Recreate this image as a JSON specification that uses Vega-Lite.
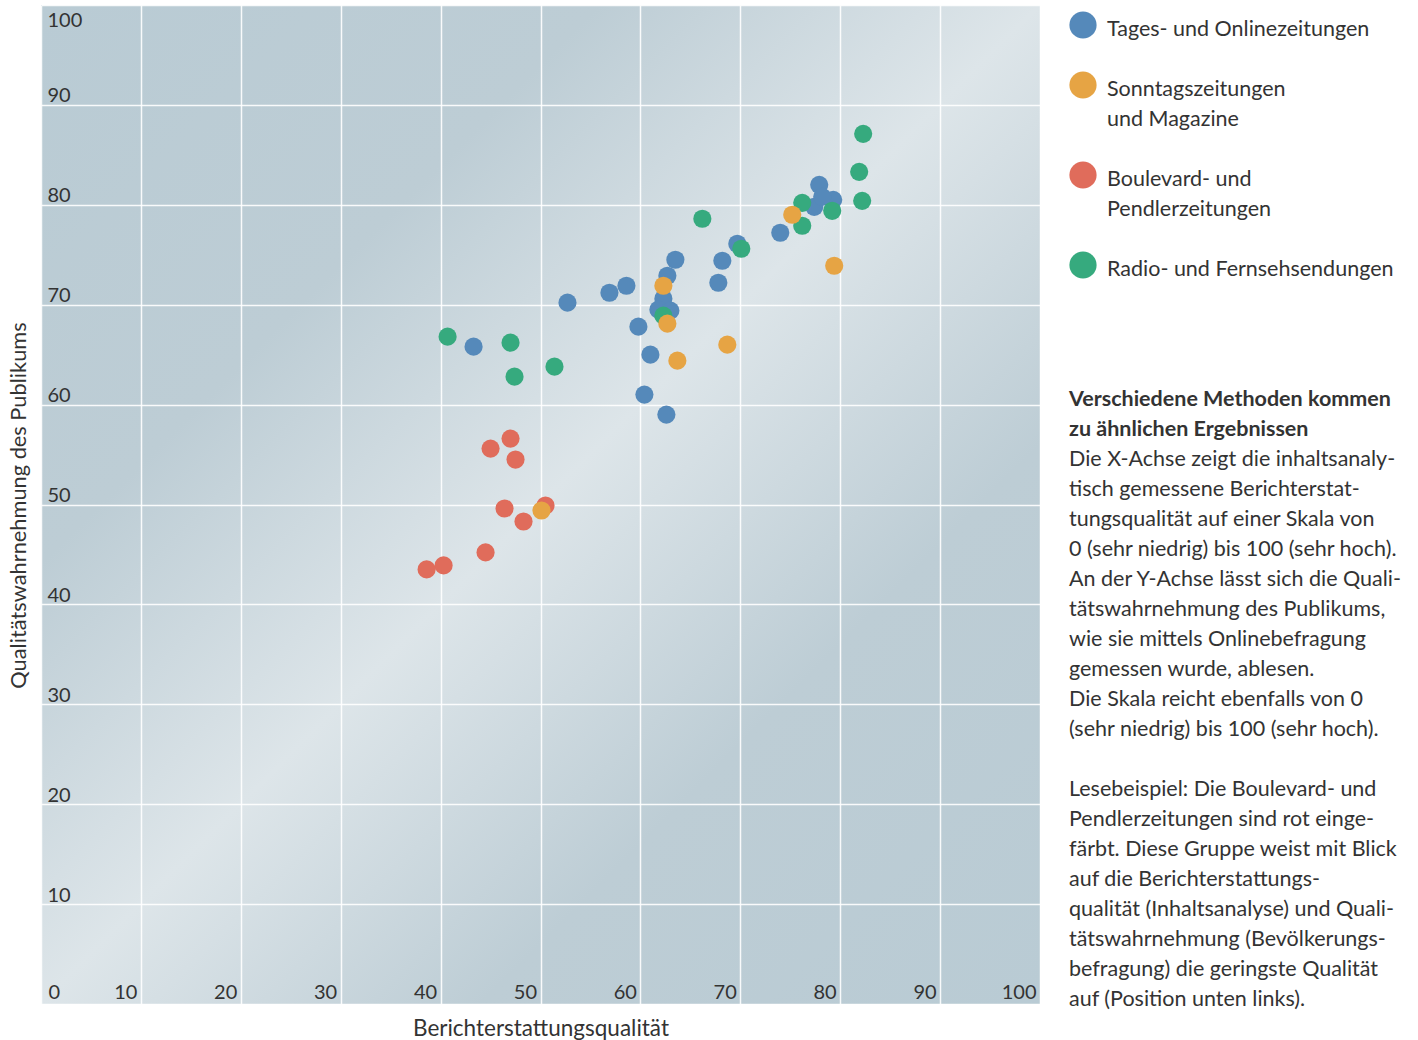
{
  "$schema": "https://vega.github.io/schema/vega-lite/v6.json",
  "autosize": "none",
  "width": 999,
  "height": 999,
  "padding": {"left": 41, "top": 5, "right": 378, "bottom": 36},
  "background": "#ffffff",
  "title": {
    "text": ["Verschiedene Methoden kommen", "zu ähnlichen Ergebnissen"],
    "subtitle": ["Die X-Achse zeigt die inhaltsanaly-", "tisch gemessene Berichterstat-", "tungsqualität auf einer Skala von", "0 (sehr niedrig) bis 100 (sehr hoch).", "An der Y-Achse lässt sich die Quali-", "tätswahrnehmung des Publikums,", "wie sie mittels Onlinebefragung", "gemessen wurde, ablesen.", "Die Skala reicht ebenfalls von 0", "(sehr niedrig) bis 100 (sehr hoch).", "\u2800", "Lesebeispiel: Die Boulevard- und", "Pendlerzeitungen sind rot einge-", "färbt. Diese Gruppe weist mit Blick", "auf die Berichterstattungs-", "qualität (Inhaltsanalyse) und Quali-", "tätswahrnehmung (Bevölkerungs-", "befragung) die geringste Qualität", "auf (Position unten links)."],
    "anchor": "start",
    "frame": "group",
    "orient": "top",
    "dx": 1028,
    "dy": 1009,
    "font": "Lato",
    "fontSize": 21.5,
    "fontWeight": "bold",
    "lineHeight": 30,
    "color": "#333333",
    "subtitleFont": "Lato",
    "subtitleFontSize": 21.5,
    "subtitleFontWeight": "normal",
    "subtitleLineHeight": 30,
    "subtitleColor": "#333333",
    "subtitlePadding": 8
  },
  "config": {
    "view": {
      "stroke": null,
      "fill": {
        "gradient": "linear",
        "x1": 0, "y1": 0, "x2": 1, "y2": 1,
        "stops": [
          {"offset": 0, "color": "#b9cbd4"},
          {"offset": 0.28, "color": "#bdcdd5"},
          {"offset": 0.5, "color": "#dde5e9"},
          {"offset": 0.72, "color": "#bdcdd5"},
          {"offset": 1, "color": "#b9cbd4"}
        ]
      }
    },
    "font": "Lato",
    "style": {"guide-label": {"lineHeight": 30}}
  },
  "data": {
    "values": [
      {"group": "Tages- und Onlinezeitungen", "x": 43.3, "y": 65.8},
      {"group": "Tages- und Onlinezeitungen", "x": 52.7, "y": 70.2},
      {"group": "Tages- und Onlinezeitungen", "x": 56.9, "y": 71.2},
      {"group": "Tages- und Onlinezeitungen", "x": 58.6, "y": 71.9},
      {"group": "Tages- und Onlinezeitungen", "x": 59.8, "y": 67.8},
      {"group": "Tages- und Onlinezeitungen", "x": 61.0, "y": 65.0},
      {"group": "Tages- und Onlinezeitungen", "x": 60.4, "y": 61.0},
      {"group": "Tages- und Onlinezeitungen", "x": 62.6, "y": 59.0},
      {"group": "Tages- und Onlinezeitungen", "x": 62.7, "y": 72.9},
      {"group": "Tages- und Onlinezeitungen", "x": 63.5, "y": 74.5},
      {"group": "Tages- und Onlinezeitungen", "x": 62.3, "y": 70.6},
      {"group": "Tages- und Onlinezeitungen", "x": 61.8, "y": 69.5},
      {"group": "Tages- und Onlinezeitungen", "x": 63.0, "y": 69.4},
      {"group": "Tages- und Onlinezeitungen", "x": 67.8, "y": 72.2},
      {"group": "Tages- und Onlinezeitungen", "x": 68.2, "y": 74.4},
      {"group": "Tages- und Onlinezeitungen", "x": 69.7, "y": 76.1},
      {"group": "Tages- und Onlinezeitungen", "x": 74.0, "y": 77.2},
      {"group": "Tages- und Onlinezeitungen", "x": 77.9, "y": 82.0},
      {"group": "Tages- und Onlinezeitungen", "x": 79.3, "y": 80.5},
      {"group": "Tages- und Onlinezeitungen", "x": 77.4, "y": 79.8},
      {"group": "Tages- und Onlinezeitungen", "x": 78.2, "y": 80.8},
      {"group": "Boulevard- und Pendlerzeitungen", "x": 47.0, "y": 56.6},
      {"group": "Boulevard- und Pendlerzeitungen", "x": 45.0, "y": 55.6},
      {"group": "Boulevard- und Pendlerzeitungen", "x": 47.5, "y": 54.5},
      {"group": "Boulevard- und Pendlerzeitungen", "x": 46.4, "y": 49.6},
      {"group": "Boulevard- und Pendlerzeitungen", "x": 48.3, "y": 48.3},
      {"group": "Boulevard- und Pendlerzeitungen", "x": 50.5, "y": 49.9},
      {"group": "Boulevard- und Pendlerzeitungen", "x": 44.5, "y": 45.2},
      {"group": "Boulevard- und Pendlerzeitungen", "x": 40.3, "y": 43.9},
      {"group": "Boulevard- und Pendlerzeitungen", "x": 38.6, "y": 43.5},
      {"group": "Radio- und Fernsehsendungen", "x": 40.7, "y": 66.8},
      {"group": "Radio- und Fernsehsendungen", "x": 47.0, "y": 66.2},
      {"group": "Radio- und Fernsehsendungen", "x": 47.4, "y": 62.8},
      {"group": "Radio- und Fernsehsendungen", "x": 51.4, "y": 63.8},
      {"group": "Radio- und Fernsehsendungen", "x": 62.3, "y": 68.9},
      {"group": "Radio- und Fernsehsendungen", "x": 66.2, "y": 78.6},
      {"group": "Radio- und Fernsehsendungen", "x": 70.1, "y": 75.6},
      {"group": "Radio- und Fernsehsendungen", "x": 76.2, "y": 80.2},
      {"group": "Radio- und Fernsehsendungen", "x": 76.2, "y": 77.9},
      {"group": "Radio- und Fernsehsendungen", "x": 79.2, "y": 79.4},
      {"group": "Radio- und Fernsehsendungen", "x": 82.3, "y": 87.1},
      {"group": "Radio- und Fernsehsendungen", "x": 81.9, "y": 83.3},
      {"group": "Radio- und Fernsehsendungen", "x": 82.2, "y": 80.4},
      {"group": "Sonntagszeitungen und Magazine", "x": 62.3, "y": 71.9},
      {"group": "Sonntagszeitungen und Magazine", "x": 62.7, "y": 68.1},
      {"group": "Sonntagszeitungen und Magazine", "x": 63.7, "y": 64.4},
      {"group": "Sonntagszeitungen und Magazine", "x": 68.7, "y": 66.0},
      {"group": "Sonntagszeitungen und Magazine", "x": 75.2, "y": 79.0},
      {"group": "Sonntagszeitungen und Magazine", "x": 79.4, "y": 73.9},
      {"group": "Sonntagszeitungen und Magazine", "x": 50.1, "y": 49.4}
    ]
  },
  "mark": {"type": "circle", "size": 330, "opacity": 1},
  "encoding": {
    "x": {
      "field": "x",
      "type": "quantitative",
      "scale": {"domain": [0, 100], "nice": false, "zero": false},
      "axis": {
        "title": "Berichterstattungsqualität",
        "titleFont": "Lato",
        "titleFontSize": 22.5,
        "titleFontWeight": "normal",
        "titleColor": "#333333",
        "titleX": 499.5,
        "titleY": 31,
        "titleBaseline": "alphabetic",
        "values": [0, 10, 20, 30, 40, 50, 60, 70, 80, 90, 100],
        "grid": true,
        "gridColor": "#ffffff",
        "gridWidth": 1.5,
        "gridOpacity": 0.9,
        "domain": false,
        "ticks": false,
        "labelFont": "Lato",
        "labelFontSize": 20,
        "labelColor": "#333333",
        "labelPadding": -6,
        "labelBaseline": "alphabetic",
        "labelFlush": false,
        "labelOverlap": false,
        "labelAlign": {"condition": {"test": "datum.value === 0", "value": "left"}, "value": "right"},
        "labelOffset": {"condition": {"test": "datum.value === 0", "value": 7}, "value": -4}
      }
    },
    "y": {
      "field": "y",
      "type": "quantitative",
      "scale": {"domain": [0, 100], "nice": false, "zero": false},
      "axis": {
        "title": "Qualitätswahrnehmung des Publikums",
        "titleFont": "Lato",
        "titleFontSize": 21.8,
        "titleFontWeight": "normal",
        "titleColor": "#333333",
        "titleX": -16,
        "titleY": 500,
        "titleAngle": 270,
        "titleAlign": "center",
        "titleBaseline": "alphabetic",
        "values": [0, 10, 20, 30, 40, 50, 60, 70, 80, 90, 100],
        "labelExpr": "datum.value === 0 ? '' : datum.label",
        "grid": true,
        "gridColor": "#ffffff",
        "gridWidth": 1.5,
        "gridOpacity": 0.9,
        "domain": false,
        "ticks": false,
        "labelFont": "Lato",
        "labelFontSize": 20,
        "labelColor": "#333333",
        "labelPadding": -6,
        "labelAlign": "left",
        "labelBaseline": "alphabetic",
        "labelFlush": false,
        "labelOverlap": false,
        "labelOffset": {"condition": {"test": "datum.value === 100", "value": 21}, "value": -3}
      }
    },
    "color": {
      "field": "group",
      "type": "nominal",
      "scale": {
        "domain": ["Tages- und Onlinezeitungen", "Sonntagszeitungen und Magazine", "Boulevard- und Pendlerzeitungen", "Radio- und Fernsehsendungen"],
        "range": ["#5589ba", "#e6a444", "#e06c5b", "#36aa7e"]
      },
      "legend": {
        "title": null,
        "orient": "none",
        "legendX": 1028,
        "legendY": 6,
        "symbolType": "circle",
        "symbolSize": 740,
        "symbolOpacity": 1,
        "symbolStrokeWidth": 0,
        "labelFont": "Lato",
        "labelFontSize": 21.5,
        "labelColor": "#333333",
        "labelLimit": 400,
        "labelOffset": 10,
        "labelBaseline": "top",
        "rowPadding": 30,
        "encoding": {"labels": {"dy": {"value": -6}}},
        "labelExpr": "datum.label === 'Sonntagszeitungen und Magazine' ? ['Sonntagszeitungen', 'und Magazine'] : datum.label === 'Boulevard- und Pendlerzeitungen' ? ['Boulevard- und', 'Pendlerzeitungen'] : datum.label"
      }
    }
  }
}
